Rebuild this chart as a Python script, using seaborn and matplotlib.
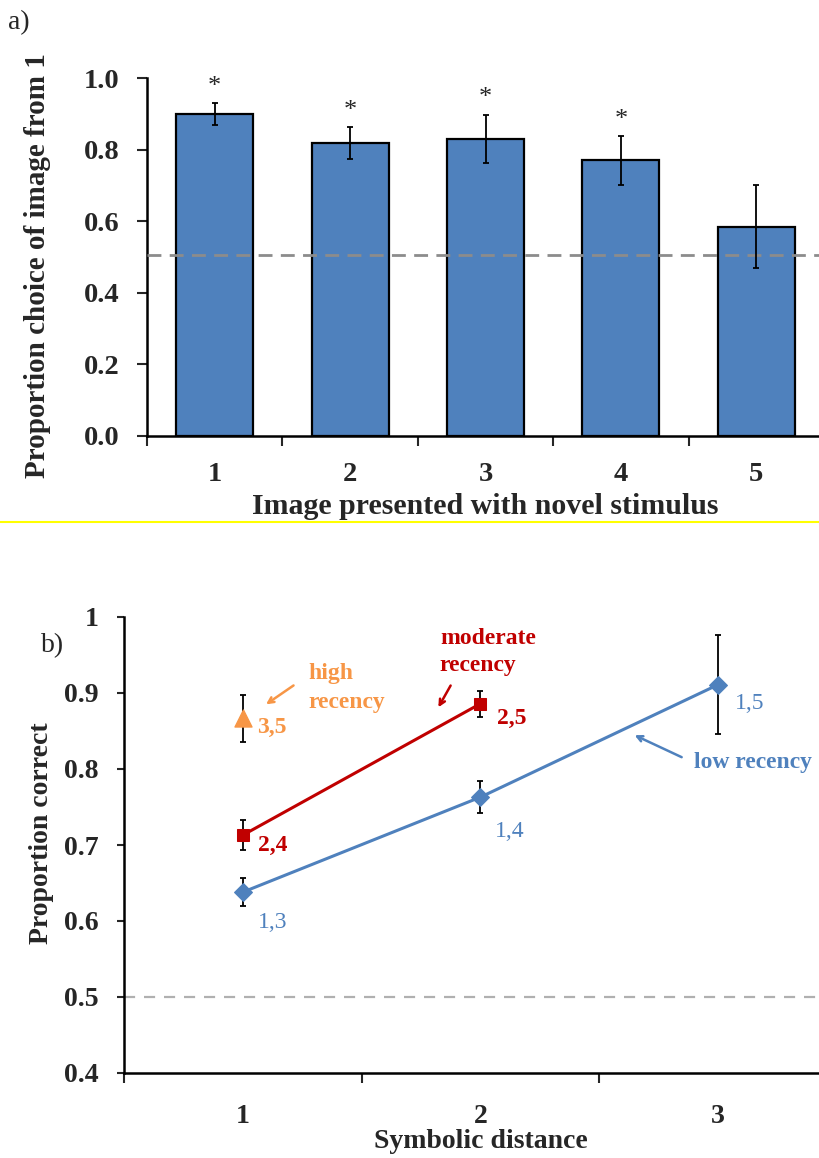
import numpy as np
import pandas as pd
import matplotlib
matplotlib.use("Agg")
import matplotlib.pyplot as plt
import seaborn as sns

# ---------------- data ----------------
# panel a
img_labels = ["1", "2", "3", "4", "5"]
img_prop = [0.90, 0.818, 0.830, 0.770, 0.585]
img_err = [0.030, 0.045, 0.068, 0.068, 0.116]
img_sig = ["*", "*", "*", "*", ""]
a_yticks = [0.0, 0.2, 0.4, 0.6, 0.8, 1.0]
a_yticklabels = ["0.0", "0.2", "0.4", "0.6", "0.8", "1.0"]

# panel b
low_x = [1, 2, 3]
low_y = [0.638, 0.763, 0.911]
low_err = [0.018, 0.021, 0.065]
low_pairs = ["1,3", "1,4", "1,5"]
mod_x = [1, 2]
mod_y = [0.713, 0.886]
mod_err = [0.020, 0.017]
mod_pairs = ["2,4", "2,5"]
high_x = [1]
high_y = [0.867]
high_err = [0.031]
high_pairs = ["3,5"]
b_yticks = [0.4, 0.5, 0.6, 0.7, 0.8, 0.9, 1.0]
b_yticklabels = ["0.4", "0.5", "0.6", "0.7", "0.8", "0.9", "1"]
b_xticklabels = ["1", "2", "3"]

BLUE = "#4F81BD"
BAR = "#4F81BD"
RED = "#C00000"
ORANGE = "#F79646"

sns.set_style("white")
plt.rcParams["font.family"] = ["Liberation Serif", "DejaVu Serif"]
plt.rcParams["font.weight"] = "bold"

W, H = 819, 1158
fig = plt.figure(figsize=(W / 100, H / 100), dpi=100)


def fx(px):
    return px / W


def fy(py):
    return 1 - py / H


# ---------------- panel a ----------------
axa = fig.add_axes([fx(147), fy(436), (824 - 147) / W, (436 - 78) / H])
dfa = pd.DataFrame({"img": img_labels, "prop": img_prop})
sns.barplot(data=dfa, x="img", y="prop", color=BAR, saturation=1, width=0.57,
            edgecolor="black", linewidth=1.6, errorbar=None, ax=axa)
pos = np.arange(len(img_labels))
axa.errorbar(pos, img_prop, yerr=img_err, fmt="none", ecolor="black",
             elinewidth=1.3, capsize=2.5, capthick=1.3, zorder=5)
for p, v, e, s in zip(pos, img_prop, img_err, img_sig):
    if s:
        axa.text(p, v + e + 0.045, s, ha="center", va="center", fontsize=19,
                 fontweight="normal")
axa.axhline(0.505, color="#8c8c8c", lw=2.0, ls=(0, (5, 3)), zorder=4)
axa.set_xlim(-0.5, 4.5)
axa.set_ylim(0, 1.0)
axa.set_yticks(a_yticks)
axa.set_yticklabels(a_yticklabels)
axa.set_xticks(np.arange(-0.5, 5.0, 1.0))
axa.set_xticklabels([])
axa.set_xticks(pos, minor=True)
axa.set_xticklabels(img_labels, minor=True)
axa.tick_params(axis="x", which="major", length=7, width=1.5, direction="out",
                bottom=True)
axa.tick_params(axis="x", which="minor", length=0, pad=19, labelsize=20.5)
axa.tick_params(axis="y", length=7, width=1.5, direction="out", left=True,
                pad=13, labelsize=20.5)
for s in ["top", "right"]:
    axa.spines[s].set_visible(False)
for s in ["left", "bottom"]:
    axa.spines[s].set_linewidth(1.8)
    axa.spines[s].set_color("black")
axa.set_xlabel("")
axa.set_ylabel("")
fig.text(fx(485), fy(506), "Image presented with novel stimulus", ha="center",
         va="center", fontsize=21.5, fontweight="bold")
fig.text(fx(38), fy(478), "Proportion choice of image from 1", rotation=90,
         ha="center", va="bottom", fontsize=21, fontweight="bold")
fig.text(fx(8), fy(23), "a)", ha="left", va="center", fontsize=20,
         fontweight="normal")

# yellow separator line
fig.add_artist(plt.Line2D([0, 1], [fy(522), fy(522)], color="#ffff00", lw=1.5))

# ---------------- panel b ----------------
axb = fig.add_axes([fx(124), fy(1073), (837 - 124) / W, (1073 - 617) / H])
axb.axhline(0.5, color="#b0b0b0", lw=1.6, ls=(0, (5, 4)), zorder=1)
dfl = pd.DataFrame({"x": low_x, "y": low_y})
dfm = pd.DataFrame({"x": mod_x, "y": mod_y})
dfh = pd.DataFrame({"x": high_x, "y": high_y})
axb.errorbar(low_x, low_y, yerr=low_err, fmt="none", ecolor="black",
             elinewidth=1.3, capsize=2, capthick=1.3, zorder=2)
axb.errorbar(mod_x, mod_y, yerr=mod_err, fmt="none", ecolor="black",
             elinewidth=1.3, capsize=2, capthick=1.3, zorder=2)
axb.errorbar(high_x, high_y, yerr=high_err, fmt="none", ecolor="black",
             elinewidth=1.3, capsize=2, capthick=1.3, zorder=2)
sns.lineplot(data=dfl, x="x", y="y", color=BLUE, lw=2.2, marker="D",
             markersize=9, markeredgecolor=BLUE, ax=axb, zorder=3)
sns.lineplot(data=dfm, x="x", y="y", color=RED, lw=2.2, marker="s",
             markersize=8.5, markeredgecolor=RED, ax=axb, zorder=3)
sns.scatterplot(data=dfh, x="x", y="y", color=ORANGE, marker="^", s=150,
                edgecolor=ORANGE, ax=axb, zorder=3)

axb.set_xlim(0.5, 3.5)
axb.set_ylim(0.4, 1.0)
axb.set_yticks(b_yticks)
axb.set_yticklabels(b_yticklabels)
axb.set_xticks([0.5, 1.5, 2.5, 3.5])
axb.set_xticklabels([])
axb.set_xticks(low_x, minor=True)
axb.set_xticklabels(b_xticklabels, minor=True)
axb.tick_params(axis="x", which="major", length=7, width=1.5, direction="out",
                bottom=True)
axb.tick_params(axis="x", which="minor", length=0, pad=22, labelsize=20)
axb.tick_params(axis="y", length=5, width=1.5, direction="out", left=True,
                pad=13, labelsize=20)
for s in ["top", "right"]:
    axb.spines[s].set_visible(False)
for s in ["left", "bottom"]:
    axb.spines[s].set_linewidth(1.8)
    axb.spines[s].set_color("black")
axb.set_xlabel("")
axb.set_ylabel("")
fig.text(fx(481), fy(1141), "Symbolic distance", ha="center", va="center",
         fontsize=20, fontweight="bold")
fig.text(fx(42), fy(833), "Proportion correct", rotation=90, ha="center",
         va="center", fontsize=20, fontweight="bold")
fig.text(fx(41), fy(646), "b)", ha="left", va="center", fontsize=20,
         fontweight="normal")

# point labels
lab_off = [(1.065, -0.040), (2.06, -0.045), (3.07, -0.025)]
for (xx, dy), yv, t in zip(lab_off, low_y, low_pairs):
    axb.text(xx, yv + dy, t, color=BLUE, fontsize=17, fontweight="normal",
             ha="left", va="center")
for xx, yv, t, dy in zip([1.063, 2.07], mod_y, mod_pairs, [-0.013, -0.020]):
    axb.text(xx, yv + dy, t, color=RED, fontsize=17, fontweight="bold",
             ha="left", va="center")
for xx, yv, t in zip([1.059], high_y, high_pairs):
    axb.text(xx, yv - 0.012, t, color=ORANGE, fontsize=17, fontweight="bold",
             ha="left", va="center")

# annotations with arrows
axb.text(1.274, 0.925, "high", color=ORANGE, fontsize=17, fontweight="bold",
         ha="left", va="center")
axb.text(1.274, 0.888, "recency", color=ORANGE, fontsize=17, fontweight="bold",
         ha="left", va="center")
axb.annotate("", xy=(1.088, 0.883), xytext=(1.223, 0.912),
             arrowprops=dict(arrowstyle="->", color=ORANGE, lw=1.8))
axb.text(1.829, 0.972, "moderate", color=RED, fontsize=17, fontweight="bold",
         ha="left", va="center")
axb.text(1.829, 0.936, "recency", color=RED, fontsize=17, fontweight="bold",
         ha="left", va="center")
axb.annotate("", xy=(1.817, 0.878), xytext=(1.88, 0.913),
             arrowprops=dict(arrowstyle="->", color=RED, lw=1.8))
axb.text(2.897, 0.809, "low recency", color=BLUE, fontsize=17,
         fontweight="bold", ha="left", va="center")
axb.annotate("", xy=(2.638, 0.846), xytext=(2.857, 0.814),
             arrowprops=dict(arrowstyle="->", color=BLUE, lw=1.8))

fig.savefig("out.png", dpi=100)
